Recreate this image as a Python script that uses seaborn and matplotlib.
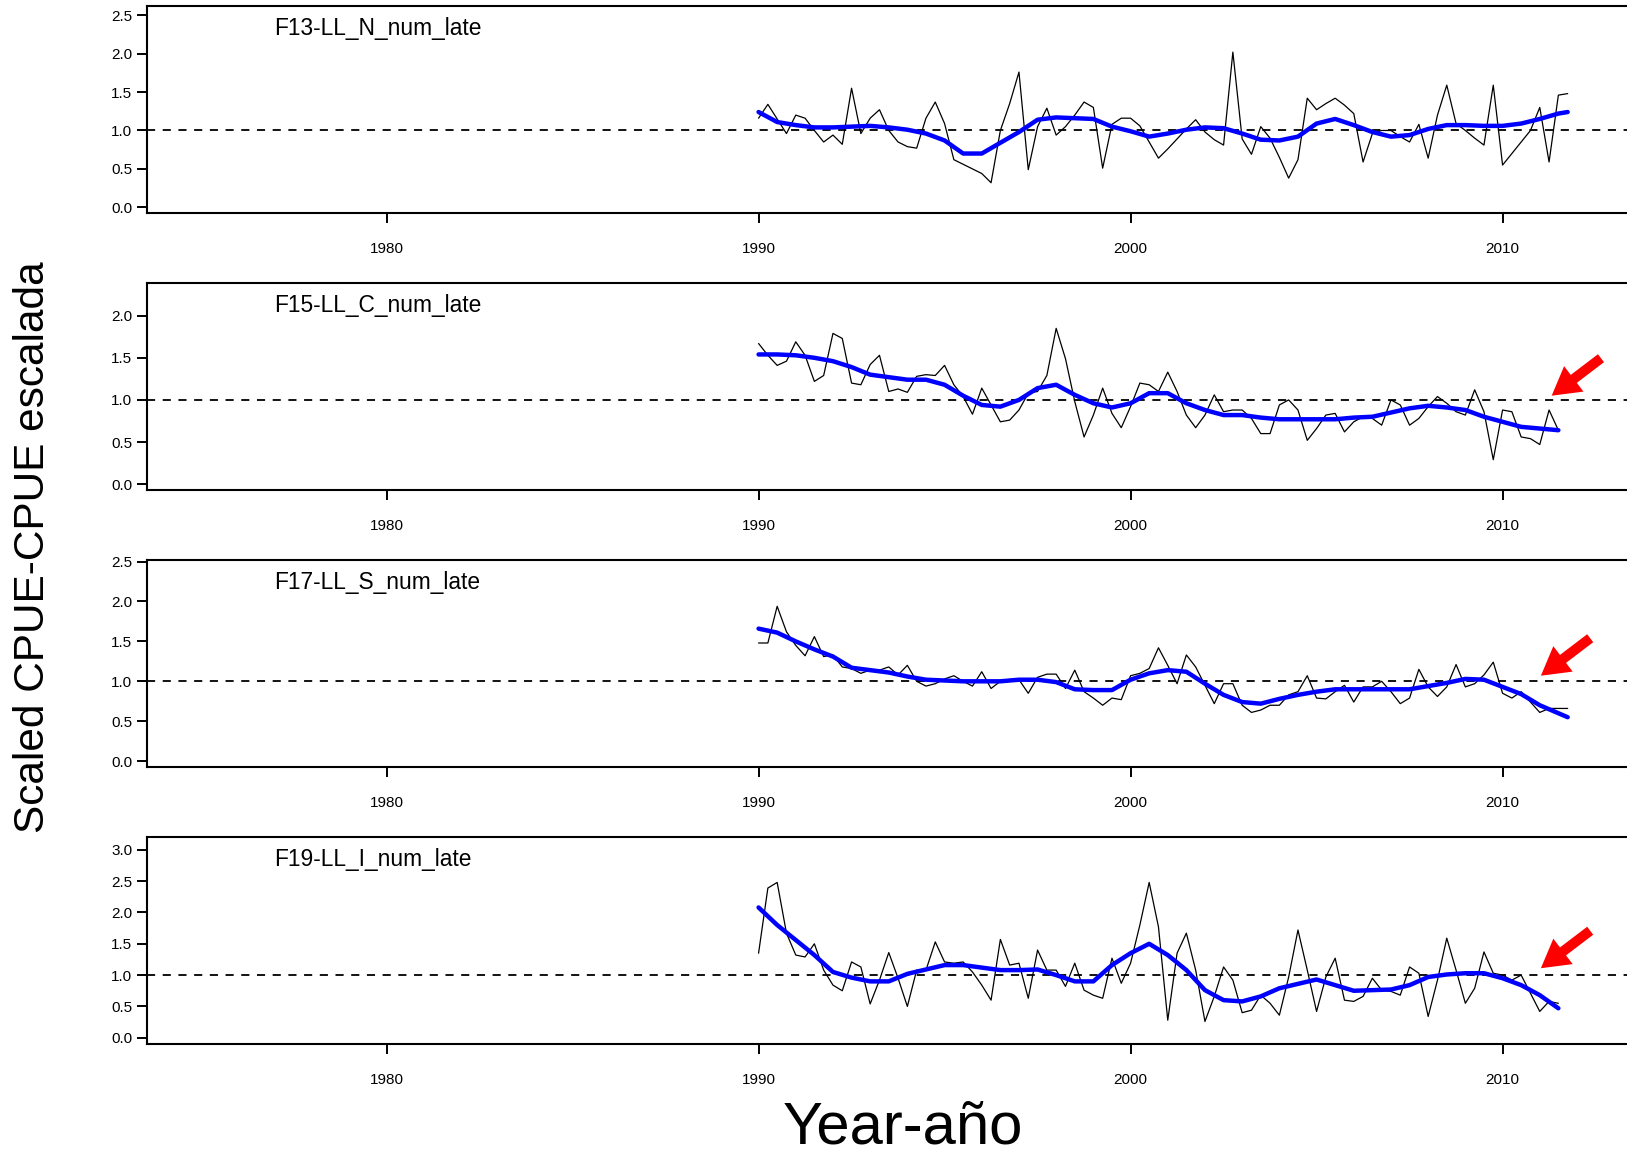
import numpy as np
import pandas as pd
import matplotlib
matplotlib.use("Agg")
import matplotlib.pyplot as plt
import seaborn as sns

sns.set_style("white")
plt.rcParams['font.family'] = ['Liberation Sans', 'DejaVu Sans']
plt.rcParams['text.color'] = 'black'

# --- data (quarterly scaled CPUE, 1990 Q1 onwards) ---
panel_names = ["F13-LL_N_num_late", "F15-LL_C_num_late",
               "F17-LL_S_num_late", "F19-LL_I_num_late"]

f13_cpue = [1.16, 1.34, 1.15, 0.96, 1.20, 1.16, 1.00, 0.85, 0.94, 0.82, 1.55, 0.96,
            1.16, 1.27, 1.00, 0.85, 0.79, 0.77, 1.16, 1.37, 1.09, 0.62, 0.56, 0.50,
            0.44, 0.32, 1.00, 1.35, 1.76, 0.49, 1.05, 1.29, 0.94, 1.05, 1.20, 1.37,
            1.30, 0.51, 1.08, 1.16, 1.16, 1.06, 0.85, 0.64, 0.76, 0.89, 1.02, 1.14,
            0.98, 0.88, 0.81, 2.02, 0.89, 0.69, 1.05, 0.90, 0.65, 0.38, 0.62, 1.42,
            1.27, 1.35, 1.42, 1.33, 1.22, 0.59, 0.96, 1.00, 1.00, 0.92, 0.85, 1.08,
            0.64, 1.20, 1.59, 1.09, 1.00, 0.90, 0.81, 1.59, 0.55, 0.70, 0.85, 1.00,
            1.30, 0.59, 1.46, 1.48]
f15_cpue = [1.67, 1.53, 1.41, 1.46, 1.69, 1.53, 1.22, 1.29, 1.79, 1.73, 1.20, 1.18,
            1.42, 1.53, 1.10, 1.13, 1.09, 1.28, 1.30, 1.29, 1.41, 1.18, 1.04, 0.83,
            1.14, 0.94, 0.74, 0.76, 0.88, 1.08, 1.10, 1.29, 1.85, 1.49, 0.98, 0.56,
            0.82, 1.14, 0.84, 0.67, 0.92, 1.20, 1.18, 1.10, 1.33, 1.10, 0.82, 0.67,
            0.82, 1.06, 0.86, 0.88, 0.88, 0.78, 0.60, 0.60, 0.94, 1.00, 0.88, 0.52,
            0.66, 0.82, 0.84, 0.62, 0.74, 0.80, 0.78, 0.70, 1.00, 0.94, 0.70, 0.78,
            0.92, 1.04, 0.96, 0.86, 0.82, 1.12, 0.86, 0.29, 0.88, 0.86, 0.56, 0.54,
            0.47, 0.88, 0.64]
f17_cpue = [1.48, 1.48, 1.94, 1.62, 1.45, 1.32, 1.56, 1.31, 1.33, 1.18, 1.16, 1.10,
            1.14, 1.14, 1.18, 1.08, 1.20, 1.00, 0.94, 0.97, 1.03, 1.07, 1.00, 0.94,
            1.12, 0.91, 1.00, 1.00, 1.02, 0.85, 1.05, 1.09, 1.09, 0.91, 1.14, 0.87,
            0.79, 0.70, 0.79, 0.77, 1.07, 1.10, 1.16, 1.42, 1.20, 0.97, 1.33, 1.18,
            0.95, 0.72, 0.97, 0.97, 0.70, 0.61, 0.64, 0.70, 0.70, 0.83, 0.87, 1.07,
            0.79, 0.78, 0.87, 0.95, 0.74, 0.93, 0.93, 1.00, 0.87, 0.72, 0.79, 1.15,
            0.93, 0.81, 0.93, 1.21, 0.93, 0.97, 1.08, 1.24, 0.85, 0.79, 0.87, 0.74,
            0.61, 0.66, 0.66, 0.66]
f19_cpue = [1.35, 2.39, 2.48, 1.67, 1.32, 1.29, 1.50, 1.08, 0.84, 0.75, 1.21, 1.13,
            0.54, 0.92, 1.36, 0.95, 0.50, 1.08, 1.08, 1.53, 1.21, 1.19, 1.21, 1.05,
            0.84, 0.60, 1.57, 1.16, 1.19, 0.63, 1.40, 1.08, 1.08, 0.82, 1.19, 0.76,
            0.68, 0.63, 1.27, 0.87, 1.19, 1.80, 2.48, 1.77, 0.28, 1.35, 1.67, 1.08,
            0.26, 0.66, 1.13, 0.92, 0.40, 0.44, 0.68, 0.55, 0.36, 0.97, 1.72, 1.08,
            0.42, 0.97, 1.27, 0.60, 0.58, 0.66, 0.95, 0.76, 0.74, 0.68, 1.13, 1.03,
            0.34, 0.92, 1.59, 1.08, 0.55, 0.79, 1.37, 1.03, 1.00, 0.92, 1.00, 0.71,
            0.42, 0.58, 0.55]

# smoothed trend, read every half year (last value at the final quarter)
f13_smooth = [1.24, 1.11, 1.07, 1.04, 1.04, 1.05, 1.06, 1.04, 1.01, 0.96, 0.87, 0.70,
              0.70, 0.84, 0.98, 1.14, 1.17, 1.16, 1.15, 1.05, 0.99, 0.92, 0.96, 1.01,
              1.04, 1.03, 0.96, 0.88, 0.87, 0.92, 1.09, 1.15, 1.07, 0.98, 0.92, 0.94,
              1.02, 1.07, 1.07, 1.06, 1.06, 1.09, 1.15, 1.22, 1.24]
f15_smooth = [1.54, 1.54, 1.53, 1.50, 1.46, 1.39, 1.30, 1.27, 1.24, 1.24, 1.18, 1.05,
              0.94, 0.92, 1.00, 1.14, 1.18, 1.06, 0.96, 0.91, 0.96, 1.08, 1.08, 0.96,
              0.88, 0.82, 0.82, 0.79, 0.77, 0.77, 0.77, 0.77, 0.79, 0.80, 0.85, 0.90,
              0.93, 0.91, 0.88, 0.80, 0.74, 0.68, 0.66, 0.64]
f17_smooth = [1.66, 1.61, 1.50, 1.40, 1.31, 1.17, 1.14, 1.11, 1.06, 1.02, 1.01, 1.00,
              1.00, 1.00, 1.02, 1.02, 0.99, 0.90, 0.89, 0.89, 1.02, 1.10, 1.14, 1.12,
              0.97, 0.83, 0.74, 0.72, 0.78, 0.83, 0.87, 0.90, 0.90, 0.90, 0.90, 0.90,
              0.94, 0.98, 1.03, 1.02, 0.93, 0.84, 0.70, 0.60, 0.55]
f19_smooth = [2.08, 1.80, 1.56, 1.32, 1.05, 0.96, 0.90, 0.90, 1.02, 1.09, 1.16, 1.16,
              1.12, 1.08, 1.08, 1.09, 1.00, 0.90, 0.90, 1.16, 1.35, 1.50, 1.32, 1.08,
              0.76, 0.60, 0.58, 0.66, 0.79, 0.86, 0.93, 0.84, 0.75, 0.76, 0.77, 0.84,
              0.97, 1.01, 1.03, 1.03, 0.95, 0.84, 0.68, 0.47]

cpue_series = [f13_cpue, f15_cpue, f17_cpue, f19_cpue]
smooth_series = [f13_smooth, f15_smooth, f17_smooth, f19_smooth]

x_ticks = [1980, 1990, 2000, 2010]
y_ticks = [[0.0, 0.5, 1.0, 1.5, 2.0, 2.5],
           [0.0, 0.5, 1.0, 1.5, 2.0],
           [0.0, 0.5, 1.0, 1.5, 2.0, 2.5],
           [0.0, 0.5, 1.0, 1.5, 2.0, 2.5, 3.0]]
show_arrow = [False, True, True, True]

# --- layout (figure pixels, top-down) ---
W, H = 1627, 1153
y_limits = [(-0.07, 2.62), (-0.07, 2.385), (-0.07, 2.52), (-0.10, 3.21)]
panel_px = [(6, 212.7), (283.3, 490), (560, 766.7), (836.7, 1044)]
x_limits = (1973.56, 2013.44)
left_px, px_per_year = 147, 37.2
arrow_tip = [None, (2011.32, 1.05), (2011.03, 1.07), (2011.03, 1.11)]

fig = plt.figure(figsize=(W / 100, H / 100), dpi=100)
width = (x_limits[1] - x_limits[0]) * px_per_year / W

for i in range(4):
    top, bot = panel_px[i]
    ax = fig.add_axes([left_px / W, (H - bot) / H, width, (bot - top) / H])

    vals = cpue_series[i]
    quarters = 1990 + 0.25 * np.arange(len(vals))
    df = pd.DataFrame({"year": quarters, "cpue": vals})

    sm = smooth_series[i]
    half_years = list(1990 + 0.5 * np.arange(44))
    if len(sm) > 44:
        half_years.append(quarters[-1])
    sdf = pd.DataFrame({"year": half_years[:len(sm)], "smooth": sm})

    ax.axhline(1.0, color="black", lw=1.3, dashes=(4.5, 4.2), zorder=1)
    sns.lineplot(data=df, x="year", y="cpue", ax=ax, color="black", lw=0.9,
                 zorder=2)
    sns.lineplot(data=sdf, x="year", y="smooth", ax=ax, color="#0000ff", lw=3.2,
                 zorder=3)

    ax.set_xlim(*x_limits)
    ax.set_ylim(*y_limits[i])
    ax.set_xticks(x_ticks)
    ax.set_yticks(y_ticks[i])
    ax.set_yticklabels([f"{v:.1f}" for v in y_ticks[i]])
    ax.set_xlabel("")
    ax.set_ylabel("")
    ax.grid(False)

    for spine in ax.spines.values():
        spine.set_color("black")
        spine.set_linewidth(1.5)

    ax.tick_params(axis="both", direction="out", length=7, width=1.4,
                   colors="black", labelsize=11, bottom=True, left=True,
                   top=False, right=False)
    ax.tick_params(axis="x", pad=14)
    ax.tick_params(axis="y", pad=3.5)

    ax.text(0.086, 0.86, panel_names[i], transform=ax.transAxes,
            fontsize=16.4, va="baseline", ha="left", color="black")

    if show_arrow[i]:
        ax.annotate("", xy=arrow_tip[i], xycoords="data",
                    xytext=(35.5, 27), textcoords="offset points",
                    arrowprops=dict(arrowstyle="simple,head_length=2.0,head_width=2.3,tail_width=0.72",
                                    mutation_scale=10, color="red", lw=0,
                                    shrinkA=0, shrinkB=0))

fig.text(33 / W, (H - 547) / H, "Scaled CPUE-CPUE escalada", rotation=90,
         ha="center", va="center", fontsize=30.5, color="black")
fig.text(903 / W, 9 / H, "Year-año", ha="center", va="baseline", fontsize=43,
         color="black")

fig.savefig("out.png", dpi=100)
